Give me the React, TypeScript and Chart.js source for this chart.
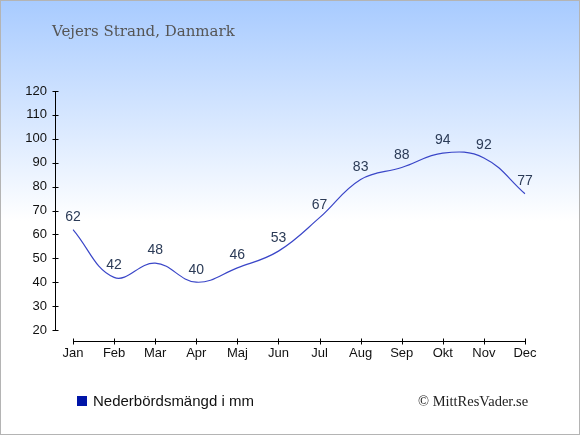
import React, { useEffect, useRef } from "react";
import { Chart, registerables } from "chart.js";

Chart.register(...registerables);

const months = ["Jan", "Feb", "Mar", "Apr", "Maj", "Jun", "Jul", "Aug", "Sep", "Okt", "Nov", "Dec"];
const precipitation = [62, 42, 48, 40, 46, 53, 67, 83, 88, 94, 92, 77];
const yTicks = [20, 30, 40, 50, 60, 70, 80, 90, 100, 110, 120];

const titleText = "Vejers Strand, Danmark";
const legendText = "Nederbördsmängd i mm";
const creditText = "© MittResVader.se";

const axisPlugin = {
  id: "customAxes",
  afterDraw(chart: any) {
    const ctx = chart.ctx;
    const x = chart.scales.x;
    const y = chart.scales.y;
    ctx.save();
    ctx.strokeStyle = "#000";
    ctx.lineWidth = 1;
    const ax = 55.5;
    const yTop = y.getPixelForValue(yTicks[yTicks.length - 1]);
    const yBot = y.getPixelForValue(yTicks[0]);
    ctx.beginPath();
    ctx.moveTo(ax, Math.round(yTop) + 0.5);
    ctx.lineTo(ax, Math.round(yBot) + 0.5);
    for (const v of yTicks) {
      const py = Math.round(y.getPixelForValue(v)) + 0.5;
      ctx.moveTo(ax - 3, py);
      ctx.lineTo(ax + 3, py);
    }
    ctx.stroke();
    const ay = 341.5;
    const x0 = x.getPixelForValue(0);
    const x1 = x.getPixelForValue(months.length - 1);
    ctx.beginPath();
    ctx.moveTo(Math.round(x0) + 0.5, ay);
    ctx.lineTo(Math.round(x1) + 0.5, ay);
    for (let i = 0; i < months.length; i++) {
      const px = Math.round(x.getPixelForValue(i)) + 0.5;
      ctx.moveTo(px, ay - 3);
      ctx.lineTo(px, ay + 3);
    }
    ctx.stroke();
    ctx.restore();
  },
};

const labelPlugin = {
  id: "pointLabels",
  afterDatasetsDraw(chart: any) {
    const ctx = chart.ctx;
    const meta = chart.getDatasetMeta(0);
    ctx.save();
    ctx.font = "14px 'Liberation Sans', Arial, sans-serif";
    ctx.fillStyle = "#2b3b57";
    ctx.textAlign = "center";
    ctx.textBaseline = "middle";
    meta.data.forEach((pt: any, i: number) => {
      ctx.fillText(String(precipitation[i]), pt.x, pt.y - 12.5);
    });
    ctx.restore();
  },
};

export default function App() {
  const ref = useRef<HTMLCanvasElement | null>(null);

  useEffect(() => {
    document.body.style.margin = "0";
    if (!ref.current) return;
    const chart = new Chart(ref.current, {
      type: "line",
      data: {
        labels: months,
        datasets: [
          {
            label: legendText,
            data: precipitation,
            borderColor: "#3a46c8",
            borderWidth: 1.2,
            pointRadius: 0,
            tension: 0.4,
            fill: false,
          },
        ],
      },
      options: {
        animation: false,
        responsive: false,
        maintainAspectRatio: false,
        layout: { padding: { top: 91, right: 55, bottom: 0, left: 0 } },
        plugins: {
          legend: { display: false },
          tooltip: { enabled: false },
          title: { display: false },
        },
        scales: {
          x: {
            type: "category",
            offset: false,
            border: { display: false },
            grid: { display: false, drawTicks: false },
            ticks: {
              padding: 16,
              color: "#111",
              font: { family: "'Liberation Sans', Arial, sans-serif", size: 13 },
              maxRotation: 0,
              autoSkip: false,
            },
            afterFit(scale: any) {
              scale.height = 105;
            },
          },
          y: {
            min: 20,
            max: 120,
            border: { display: false },
            grid: { display: false, drawTicks: false },
            afterBuildTicks(scale: any) {
              scale.ticks = yTicks.map((v) => ({ value: v }));
            },
            ticks: {
              padding: 26,
              color: "#111",
              font: { family: "'Liberation Sans', Arial, sans-serif", size: 13 },
            },
            afterFit(scale: any) {
              scale.width = 73;
            },
          },
        },
      },
      plugins: [axisPlugin, labelPlugin],
    });
    return () => chart.destroy();
  }, []);

  return (
    <div
      style={{
        position: "absolute",
        left: 0,
        top: 0,
        width: 580,
        height: 435,
        boxSizing: "border-box",
        border: "1px solid #b4b4b4",
        background: "linear-gradient(to bottom, #a8cbff 0px, #ffffff 220px, #ffffff 435px)",
        overflow: "hidden",
      }}
    >
      <canvas
        ref={ref}
        width={580}
        height={435}
        style={{ position: "absolute", left: -1, top: -1, width: 580, height: 435 }}
      />
      <div
        style={{
          position: "absolute",
          left: 51,
          top: 20,
          fontFamily: "'DejaVu Serif', Georgia, serif",
          fontSize: 15,
          color: "#555",
          whiteSpace: "nowrap",
          lineHeight: "20px",
        }}
      >
        {titleText}
      </div>
      <div
        style={{
          position: "absolute",
          left: 76,
          top: 390,
          display: "flex",
          alignItems: "center",
          fontFamily: "'Liberation Sans', Arial, sans-serif",
          fontSize: 15,
          color: "#111",
          whiteSpace: "nowrap",
          lineHeight: "20px",
        }}
      >
        <span style={{ display: "inline-block", width: 10, height: 10, background: "#0015a8", marginRight: 6 }} />
        {legendText}
      </div>
      <div
        style={{
          position: "absolute",
          left: 417,
          top: 390,
          fontFamily: "'Liberation Serif', 'Times New Roman', serif",
          fontSize: 14.5,
          color: "#222",
          whiteSpace: "nowrap",
          lineHeight: "20px",
        }}
      >
        {creditText}
      </div>
    </div>
  );
}
